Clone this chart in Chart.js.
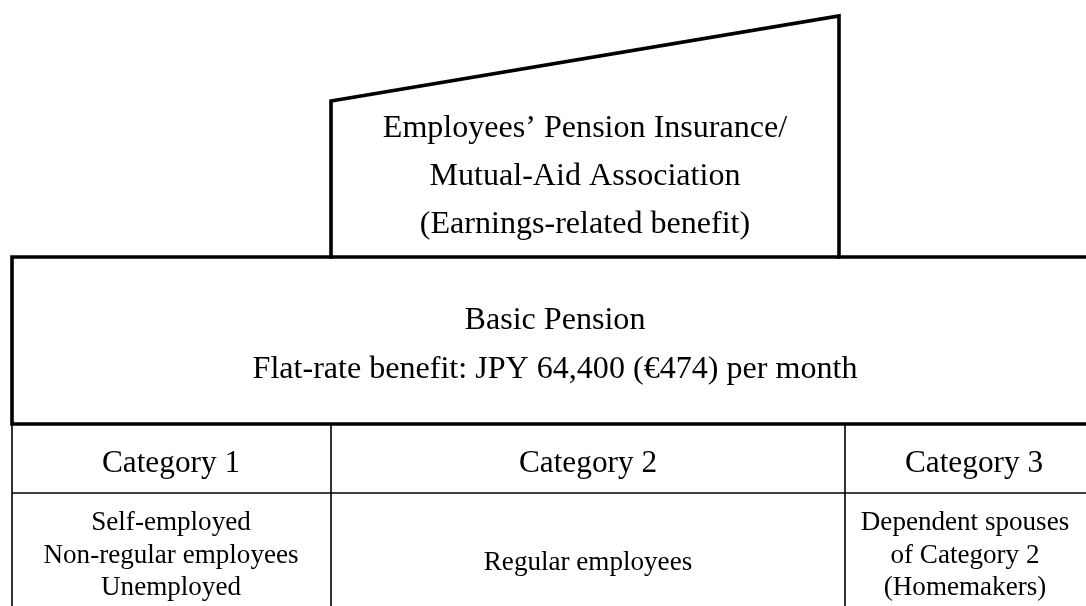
<!DOCTYPE html>
<html>
<head>
<meta charset="utf-8">
<script src="https://cdn.jsdelivr.net/npm/chart.js@4.4.0/dist/chart.umd.min.js"></script>
<style>
  html, body { margin: 0; padding: 0; background: #fff; }
  #wrap { width: 1086px; height: 606px; }
</style>
</head>
<body>
<div id="wrap"><canvas id="chart" width="1086" height="606"></canvas></div>
<script>
// texts of the pension tiers, top to bottom
const upperTierLines = ["Employees’ Pension Insurance/", "Mutual-Aid Association", "(Earnings-related benefit)"];
const basicTierLines = ["Basic Pension", "Flat-rate benefit: JPY 64,400 (€474) per month"];
const categories = ["Category 1", "Category 2", "Category 3"];
const insuredGroups = [
  ["Self-employed", "Non-regular employees", "Unemployed"],
  ["Regular employees"],
  ["Dependent spouses", "of Category 2", "(Homemakers)"]
];

// frame of the diagram (canvas units)
const W = 1086, H = 606;
const colEdges = [12, 331, 845, 1103];
const rowEdges = [424, 493, 606];
const basicTop = 257;
const upperEdges = { left: 331, right: 839, topLeft: 101, topRight: 16 };
const FONT = "'Liberation Serif', 'Times New Roman', serif";

const pt = (x, y) => ({ x: x, y: y });

function heavy(points) {
  return { data: points, showLine: true, borderColor: "#000", borderWidth: 3.6,
           pointRadius: 0, fill: false, borderJoinStyle: "miter", borderCapStyle: "square" };
}
function thin(points) {
  return { data: points, showLine: true, borderColor: "#000", borderWidth: 1.6,
           pointRadius: 0, fill: false, borderCapStyle: "butt" };
}

const datasets = [
  heavy([pt(upperEdges.left, basicTop), pt(upperEdges.left, upperEdges.topLeft),
         pt(upperEdges.right, upperEdges.topRight), pt(upperEdges.right, basicTop)]),
  heavy([pt(W, basicTop), pt(colEdges[0], basicTop), pt(colEdges[0], rowEdges[0]), pt(W, rowEdges[0])]),
  thin([pt(colEdges[0], rowEdges[0]), pt(colEdges[0], H)]),
  thin([pt(colEdges[1], rowEdges[0]), pt(colEdges[1], H)]),
  thin([pt(colEdges[2], rowEdges[0]), pt(colEdges[2], H)]),
  thin([pt(colEdges[0], rowEdges[1]), pt(W, rowEdges[1])])
];

// size a font so the given line takes the given width
function fitSize(ctx, text, width) {
  ctx.font = "100px " + FONT;
  return 100 * width / ctx.measureText(text).width;
}

const textPlugin = {
  id: "tierText",
  afterDatasetsDraw(chart) {
    const ctx = chart.ctx, xs = chart.scales.x, ys = chart.scales.y;
    ctx.save();
    ctx.fillStyle = "#000";
    ctx.textAlign = "center";
    ctx.textBaseline = "alphabetic";

    const write = (lines, cx, baselines, size) => {
      ctx.font = size.toFixed(1) + "px " + FONT;
      lines.forEach((t, i) => ctx.fillText(t, xs.getPixelForValue(cx), ys.getPixelForValue(baselines[i])));
    };

    const big = fitSize(ctx, basicTierLines[1], 605);
    write(upperTierLines, 585, [137, 185, 233], big);
    write(basicTierLines, 555, [329, 378], big);

    const head = fitSize(ctx, categories[0], 138);
    const centers = [171, 588, 974];
    categories.forEach((c, i) => write([c], centers[i], [472], head));

    const small = fitSize(ctx, insuredGroups[0][1], 255);
    const bodyCenters = [171, 588, 965];
    write(insuredGroups[0], bodyCenters[0], [530, 563, 595], small);
    write(insuredGroups[1], bodyCenters[1], [570], small);
    write(insuredGroups[2], bodyCenters[2], [530, 563, 595], small);
    ctx.restore();
  }
};

new Chart(document.getElementById("chart"), {
  type: "scatter",
  data: { datasets: datasets },
  options: {
    responsive: false,
    animation: false,
    layout: { padding: 0 },
    clip: false,
    plugins: { legend: { display: false }, tooltip: { enabled: false } },
    scales: {
      x: { type: "linear", min: 0, max: W, display: false },
      y: { type: "linear", min: 0, max: H, reverse: true, display: false }
    }
  },
  plugins: [textPlugin]
});
</script>
</body>
</html>
